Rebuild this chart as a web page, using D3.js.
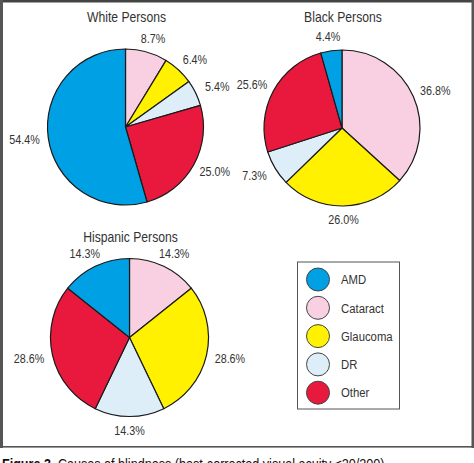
<!DOCTYPE html>
<html>
<head>
<meta charset="utf-8">
<script src="https://cdn.jsdelivr.net/npm/d3@7"></script>
<style>
  html, body { margin: 0; padding: 0; background: #fff; }
  svg { display: block; }
  text { font-family: "Liberation Sans", Arial, sans-serif; fill: #333; }
</style>
</head>
<body>
<script>
// Categories in drawing order (clockwise from 12 o'clock)
const categories = ["Cataract", "Glaucoma", "DR", "Other", "AMD"];
const legendOrder = ["AMD", "Cataract", "Glaucoma", "DR", "Other"];
const colors = ["#F9D0E2", "#FFF100", "#DDEEF8", "#E8193C", "#00A1E4"]; // matches categories

const whiteValues = [8.7, 6.4, 5.4, 25.0, 54.4];
const blackValues = [36.8, 26.0, 7.3, 25.6, 4.4];
const hispanicValues = [14.3, 28.6, 14.3, 28.6, 14.3];

const panelTitles = ["White Persons", "Black Persons", "Hispanic Persons"];
const caption = ["Figure 3.", " Causes of blindness (best-corrected visual acuity \u226420/200)"];

const W = 474, H = 463;
const NARROW = 0.84;
const svg = d3.select("body").append("svg").attr("width", W).attr("height", H);

function narrowText(parent, x, y, str, size, anchor) {
  return parent.append("text")
    .attr("transform", `translate(${x},${y}) scale(${NARROW},1)`)
    .attr("text-anchor", anchor || "start")
    .attr("font-size", size)
    .text(str);
}

// outer frame
svg.append("rect").attr("x", 0).attr("y", 0).attr("width", W).attr("height", 2.5).attr("fill", "#444");
svg.append("rect").attr("x", 0).attr("y", 0).attr("width", 3).attr("height", 448).attr("fill", "#555");
svg.append("rect").attr("x", 471.5).attr("y", 0).attr("width", 2.5).attr("height", 448).attr("fill", "#555");
svg.append("rect").attr("x", 0).attr("y", 446).attr("width", W).attr("height", 1.6).attr("fill", "#555");

const color = d3.scaleOrdinal().domain(categories).range(colors);

const panels = [
  { title: panelTitles[0], values: whiteValues, cx: 125.5, cy: 127, r: 78, ty: 22 },
  { title: panelTitles[1], values: blackValues, cx: 342, cy: 128, r: 78, ty: 22 },
  { title: panelTitles[2], values: hispanicValues, cx: 129.5, cy: 337.5, r: 79, ty: 242 }
];

const pie = d3.pie().sort(null).value(d => d.v);

panels.forEach(p => {
  const data = categories.map((c, i) => ({ c, v: p.values[i] }));
  const arcs = pie(data);
  const arc = d3.arc().innerRadius(0).outerRadius(p.r);
  const g = svg.append("g").attr("transform", `translate(${p.cx},${p.cy})`);
  g.selectAll("path").data(arcs).join("path")
    .attr("d", arc)
    .attr("fill", d => color(d.data.c))
    .attr("stroke", "#1a1a1a")
    .attr("stroke-width", 1.2)
    .attr("stroke-linejoin", "round");
  const rx = p.r + 24, ry = p.r + 14;
  arcs.forEach(d => {
    const a = (d.startAngle + d.endAngle) / 2;
    narrowText(g, rx * Math.sin(a), -ry * Math.cos(a) + 4.4, d.data.v.toFixed(1) + "%", 12.8, "middle");
  });
  narrowText(svg, p.cx + 1, p.ty, p.title, 14.5, "middle");
});

// legend
const lg = svg.append("g");
lg.append("rect").attr("x", 297.5).attr("y", 262).attr("width", 102).attr("height", 147)
  .attr("fill", "#fff").attr("stroke", "#555").attr("stroke-width", 1);
const ly = d3.scalePoint().domain(legendOrder).range([279.5, 392.7]);
legendOrder.forEach(c => {
  lg.append("circle").attr("cx", 318).attr("cy", ly(c)).attr("r", 11.5)
    .attr("fill", color(c)).attr("stroke", "#444").attr("stroke-width", 1);
  narrowText(lg, 341, ly(c) + 4.7, c, 13.5, "start");
});

// caption (cut off at bottom, as in the reference)
const cap = svg.append("text")
  .attr("transform", "translate(2,469) scale(0.9,1)")
  .attr("font-size", 14);
cap.append("tspan").attr("font-weight", "bold").style("fill", "#111").text(caption[0]);
cap.append("tspan").style("fill", "#111").text(caption[1]);
</script>
</body>
</html>
